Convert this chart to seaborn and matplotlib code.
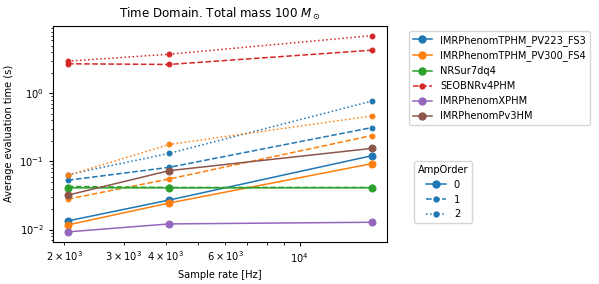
import numpy as np
import pandas as pd
import matplotlib
matplotlib.use("Agg")
import matplotlib.pyplot as plt
from matplotlib.lines import Line2D
import seaborn as sns

sample_rates = [2048, 4096, 16384]
approximants = ["IMRPhenomTPHM_PV223_FS3", "IMRPhenomTPHM_PV300_FS4", "NRSur7dq4",
                "SEOBNRv4PHM", "IMRPhenomXPHM", "IMRPhenomPv3HM"]
amp_orders = [0, 1, 2]

# (approximant, AmpOrder) -> evaluation times at each sample rate
tphm223_0 = [0.0134, 0.0271, 0.121]
tphm223_1 = [0.0529, 0.0818, 0.313]
tphm223_2 = [0.064, 0.131, 0.765]
tphm300_0 = [0.0117, 0.0245, 0.0925]
tphm300_1 = [0.028, 0.0552, 0.239]
tphm300_2 = [0.0625, 0.177, 0.463]
nrsur_0 = [0.0409, 0.0409, 0.0410]
nrsur_1 = [0.0428, 0.0415, 0.0415]
seob_1 = [2.70, 2.64, 4.27]
seob_2 = [2.95, 3.73, 6.98]
xphm_0 = [0.00925, 0.0121, 0.0128]
pv3hm_0 = [0.032, 0.0731, 0.155]

series = [
    ("IMRPhenomTPHM_PV223_FS3", 0, tphm223_0),
    ("IMRPhenomTPHM_PV223_FS3", 1, tphm223_1),
    ("IMRPhenomTPHM_PV223_FS3", 2, tphm223_2),
    ("IMRPhenomTPHM_PV300_FS4", 0, tphm300_0),
    ("IMRPhenomTPHM_PV300_FS4", 1, tphm300_1),
    ("IMRPhenomTPHM_PV300_FS4", 2, tphm300_2),
    ("NRSur7dq4", 0, nrsur_0),
    ("NRSur7dq4", 1, nrsur_1),
    ("SEOBNRv4PHM", 1, seob_1),
    ("SEOBNRv4PHM", 2, seob_2),
    ("IMRPhenomXPHM", 0, xphm_0),
    ("IMRPhenomPv3HM", 0, pv3hm_0),
]

rows = []
for appx, amp, vals in series:
    for sr, v in zip(sample_rates, vals):
        rows.append({"approximant": appx, "AmpOrder": amp, "rate": sr, "time": v})
df = pd.DataFrame(rows)

plt.rcParams["font.size"] = 7.1
plt.rcParams["axes.linewidth"] = 0.8
for k in ["xtick.major.width", "ytick.major.width"]:
    plt.rcParams[k] = 0.8
for k in ["xtick.minor.width", "ytick.minor.width"]:
    plt.rcParams[k] = 0.6
for k in ["xtick.major.size", "ytick.major.size"]:
    plt.rcParams[k] = 3.0
for k in ["xtick.minor.size", "ytick.minor.size"]:
    plt.rcParams[k] = 1.8

colors = dict(zip(approximants, sns.color_palette("tab10", 6)))
markers = {0: "o", 1: ".", 2: "."}
dashes = {0: "", 1: (3.7, 1.6), 2: (1, 1.65)}
LW = 1.1
MS_O = 5.0
MS_DOT = 7.0

fig = plt.figure(figsize=(5.99, 2.84), dpi=100)
ax = fig.add_axes([0.088, 0.149, 0.558, 0.760])

sns.lineplot(data=df, x="rate", y="time", hue="approximant", style="AmpOrder",
             hue_order=approximants, palette=colors, markers=markers, dashes=dashes,
             legend=False, ax=ax, linewidth=LW, markersize=MS_O)
for ln in ax.lines:
    ln.set_markeredgecolor(ln.get_color())
    if ln.get_marker() == ".":
        ln.set_markersize(MS_DOT)

ax.set_xscale("log")
ax.set_yscale("log")
ax.set_xlabel("Sample rate [Hz]")
ax.set_ylabel("Average evaluation time (s)")
ax.set_title(r"Time Domain. Total mass 100 $M_\odot$")

first_amp = {a: min(o for (b, o, _) in series if b == a) for a in approximants}
h1 = [Line2D([], [], color=colors[a], marker=markers[first_amp[a]],
             linestyle="-" if first_amp[a] == 0 else "--", linewidth=LW,
             markersize=MS_O if first_amp[a] == 0 else MS_DOT,
             markeredgecolor=colors[a])
      for a in approximants]
leg1 = ax.legend(h1, approximants, loc="upper left", bbox_to_anchor=(1.05, 1.0))
ax.add_artist(leg1)
ls = {0: "-", 1: "--", 2: ":"}
c0 = colors[approximants[0]]
h2 = [Line2D([], [], color=c0, marker=markers[o], linestyle=ls[o],
             linewidth=LW, markersize=MS_O if o == 0 else MS_DOT, markeredgecolor=c0)
      for o in amp_orders]
ax.legend(h2, [str(o) for o in amp_orders], title="AmpOrder", loc="center left",
          bbox_to_anchor=(1.066, 0.23))

fig.savefig("out.png", dpi=100)
